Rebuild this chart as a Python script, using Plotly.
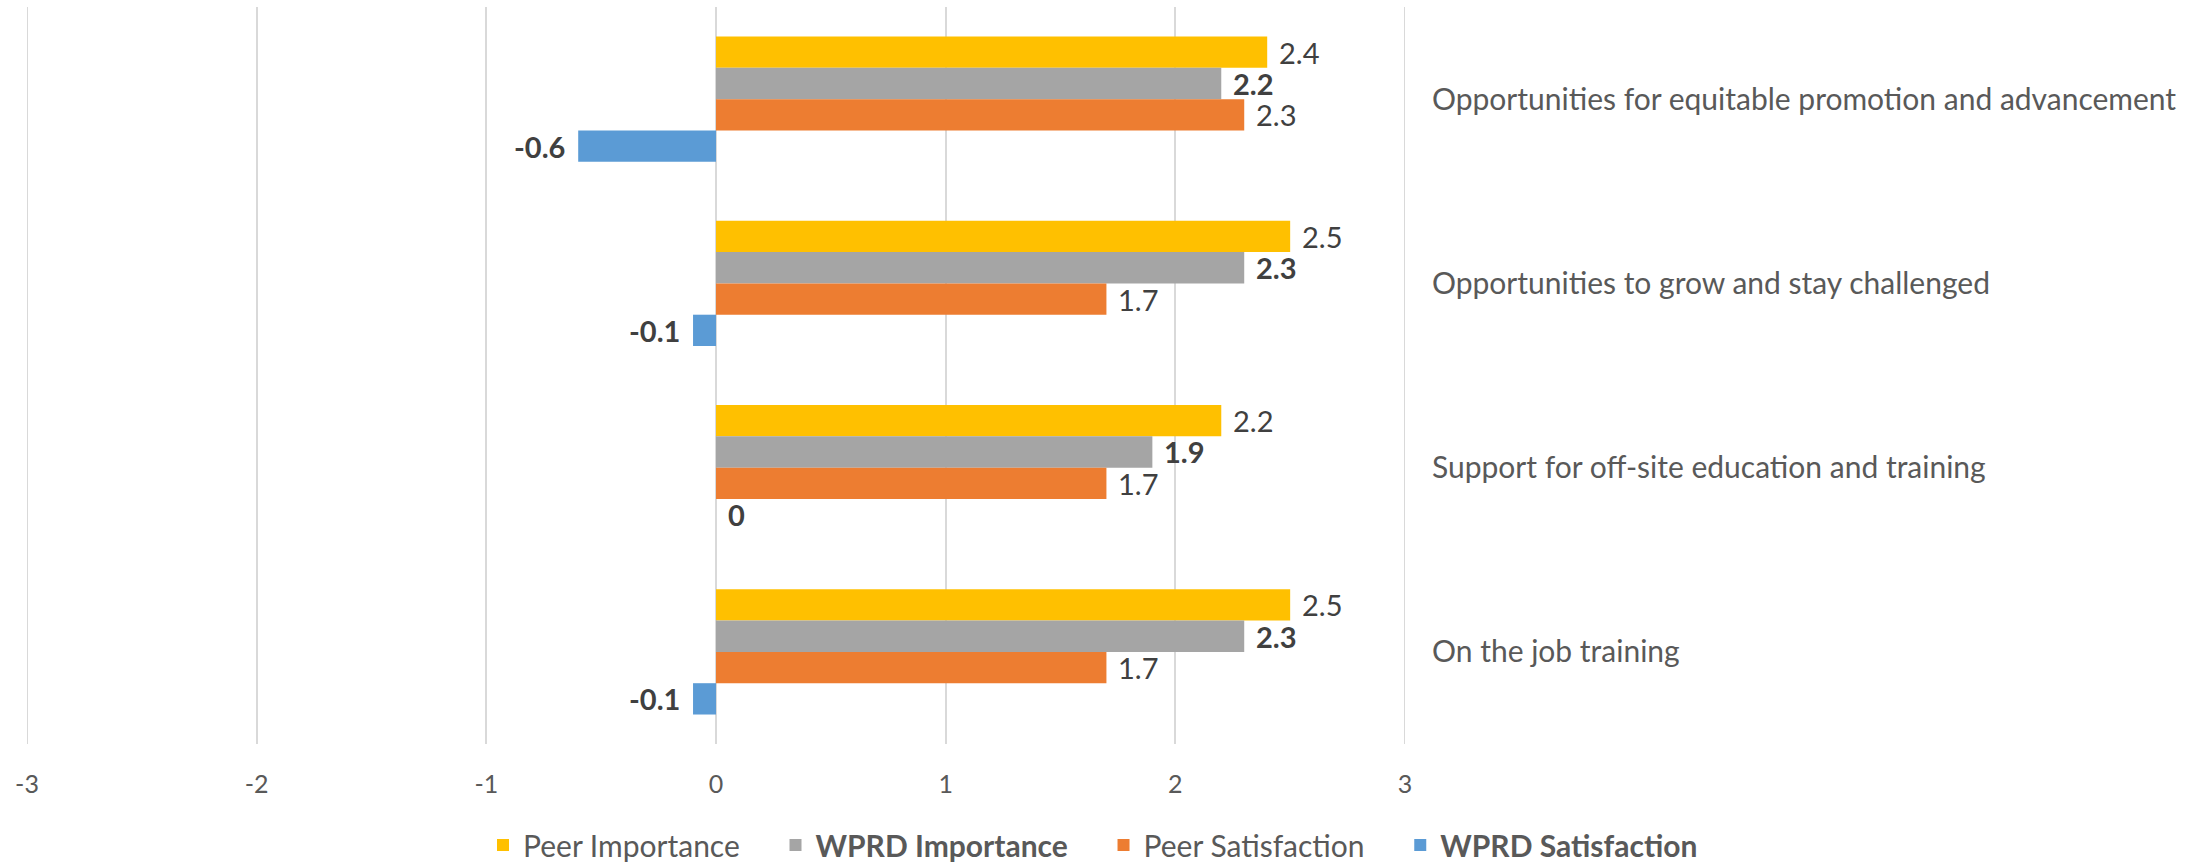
import plotly.graph_objects as go

categories = [
    "Opportunities for equitable promotion and advancement",
    "Opportunities to grow and stay challenged",
    "Support for off-site education and training",
    "On the job training",
]
peer_importance = [2.4, 2.5, 2.2, 2.5]
wprd_importance = [2.2, 2.3, 1.9, 2.3]
peer_satisfaction = [2.3, 1.7, 1.7, 1.7]
wprd_satisfaction = [-0.6, -0.1, 0, -0.1]
x_ticks = [-3, -2, -1, 0, 1, 2, 3]

series = [
    ("Peer Importance", peer_importance, "#FFC000", False),
    ("WPRD Importance", wprd_importance, "#A5A5A5", True),
    ("Peer Satisfaction", peer_satisfaction, "#ED7D31", False),
    ("WPRD Satisfaction", wprd_satisfaction, "#5B9BD5", True),
]

FONT = "Lato"
BARGAP = 0.32
W, H = 2208, 865
ML, MR, MT, MB = 27, 803, 7, 121
PAD = "\u00a0" * 4
GRID = "#D9D9D9"

fig = go.Figure()
annotations = []
n = len(series)
bw = (1 - BARGAP) / n
for k, (name, vals, color, bold) in enumerate(series):
    label = f"<b>{name}</b>" if bold else name
    fig.add_trace(go.Bar(
        name=label + PAD,
        y=categories, x=vals, orientation="h",
        marker=dict(color=color, line=dict(width=0)),
        hoverinfo="x+y",
    ))
    off = -(1 - BARGAP) / 2 + bw * (k + 0.5)
    for i, v in enumerate(vals):
        txt = f"{v:g}"
        if bold:
            txt = f"<b>{txt}</b>"
        neg = v < 0
        annotations.append(dict(
            x=v, y=i + off, xref="x", yref="y", text=txt, showarrow=False,
            xanchor="right" if neg else "left", yanchor="middle",
            xshift=-11 if neg else 10,
            font=dict(family=FONT, size=29, color="#404040"),
        ))

# edge gridlines (plotly drops gridlines lying on the plot edge)
shapes = [
    dict(type="line", xref="x", yref="paper", x0=t, x1=t, y0=0, y1=1,
         line=dict(color=GRID, width=2), layer="below")
    for t in (x_ticks[0], x_ticks[-1])
]

fig.update_layout(
    width=W, height=H,
    margin=dict(l=ML, r=MR, t=MT, b=MB, autoexpand=False),
    paper_bgcolor="white", plot_bgcolor="white",
    barmode="group", bargap=BARGAP, bargroupgap=0,
    annotations=annotations, shapes=shapes,
    font=dict(family=FONT, color="#595959"),
    legend=dict(
        orientation="h", x=(483 - ML) / (W - ML - MR), xanchor="left",
        y=(H - MB - 845) / (H - MT - MB), yanchor="middle",
        font=dict(family=FONT, size=30, color="#595959"),
        bgcolor="rgba(0,0,0,0)",
    ),
    xaxis=dict(
        range=[x_ticks[0], x_ticks[-1]], tickvals=x_ticks,
        ticktext=[str(t) for t in x_ticks],
        showgrid=True, gridcolor=GRID, gridwidth=2,
        zeroline=True, zerolinecolor=GRID, zerolinewidth=2,
        showline=False, ticks="", ticklabelstandoff=23,
        tickfont=dict(family=FONT, size=25, color="#595959"),
        fixedrange=True,
    ),
    yaxis=dict(
        type="category", categoryorder="array", categoryarray=categories,
        autorange="reversed", side="right", showgrid=False, zeroline=False,
        showline=False, ticks="", ticklabelstandoff=26,
        tickfont=dict(family=FONT, size=30, color="#595959"),
        fixedrange=True,
    ),
)

fig.write_html("out.html")
